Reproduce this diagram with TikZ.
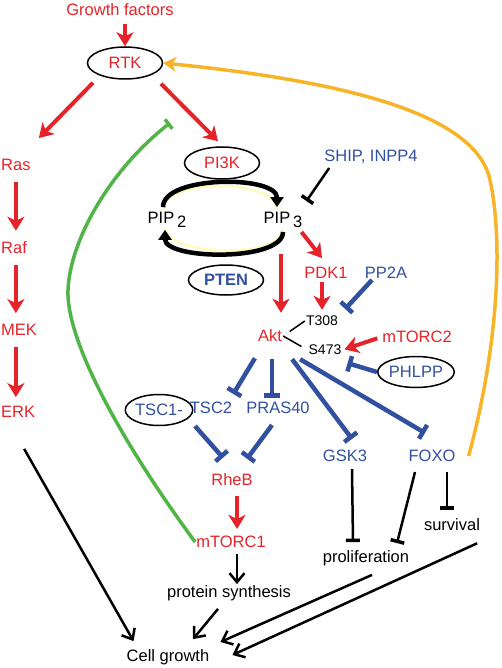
\documentclass[tikz,border=0pt]{standalone}
\usepackage{fontspec}
\setmainfont{Liberation Sans}
\usetikzlibrary{shapes.geometric,arrows.meta}
\definecolor{sigred}{RGB}{230,35,40}
\definecolor{sigblue}{RGB}{50,80,160}
\definecolor{fbgreen}{RGB}{80,180,70}
\definecolor{fborange}{RGB}{248,180,40}

\begin{document}
\begin{tikzpicture}[x=1pt, y=-1pt,
  every node/.style = {inner sep=1pt, font=\fontsize{16.5}{18}\selectfont},
  kinase/.style = {text=sigred},
  substrate/.style = {text=sigblue},
  site/.style = {font=\fontsize{14}{16}\selectfont},
  oval/.style = {ellipse, draw, line width=1.5pt, inner sep=0pt,
    minimum width=75pt, minimum height=32pt},
  act/.style = {draw=sigred, line width=4pt,
    -{Stealth[length=14pt, width=17pt, inset=4pt]}},
  inh/.style = {draw=sigblue, line width=4.5pt, -{Bar[width=16pt]}},
  leads/.style = {draw, line width=2.5pt,
    -{Straight Barb[length=9pt, width=15pt, line width=2.5pt]}},
  blocks/.style = {draw, line width=2.5pt, -{Bar[width=14pt, line width=3.5pt]}},
  turnover/.style = {draw, line width=4.5pt, -{Triangle[length=10pt, width=13pt]}},
  glow/.style = {draw=yellow!25, line width=2.5pt}]
  \useasboundingbox (0,0) rectangle (502,668);

  \node[kinase] (gf) at (120,10) {Growth factors};
  \node[oval, kinase] (rtk) at (125,63) {RTK};
  \node[kinase, anchor=west] (ras) at (0,165) {Ras};
  \node[kinase, anchor=west] (raf) at (0,248) {Raf};
  \node[kinase, anchor=west] (mek) at (0,330) {MEK};
  \node[kinase, anchor=west] (erk) at (0,412) {ERK};
  \node[oval, kinase] (pi3k) at (222,163) {PI3K};
  \node (pip2) at (167,220) {PIP\,\raisebox{-4pt}{2}};
  \node (pip3) at (283,220) {PIP\,\raisebox{-4pt}{3}};
  \node[substrate] (ship) at (371,157) {SHIP, INPP4};
  \node[oval, substrate, font=\fontsize{16.5}{18}\selectfont\bfseries,
    minimum height=30pt] (pten) at (226,280) {PTEN};
  \node[kinase] (pdk1) at (326,273) {PDK1};
  \node[substrate] (pp2a) at (386,273) {PP2A};
  \node[kinase] (akt) at (270,336) {Akt};
  \node[site] (t308) at (322,321) {T308};
  \node[site] (s473) at (325,350) {S473};
  \node[kinase] (mtorc2) at (417,337) {mTORC2};
  \node[oval, substrate, minimum height=31pt] (phlpp) at (416,372) {PHLPP};
  \node[oval, substrate, minimum width=61pt, minimum height=31pt] (tsc1) at (159,410) {TSC1-};
  \node[substrate] (tsc2) at (211,408) {TSC2};
  \node[substrate] (pras40) at (278,408) {PRAS40};
  \node[substrate] (gsk3) at (345,456) {GSK3};
  \node[substrate] (foxo) at (432,456) {FOXO};
  \node[kinase] (rheb) at (232,480) {RheB};
  \node[kinase] (mtorc1) at (231,542) {mTORC1};
  \node (ps) at (229,593) {protein synthesis};
  \node (prolif) at (366,558) {proliferation};
  \node (surv) at (452,525) {survival};
  \node (cg) at (168,657) {Cell growth};
  \coordinate (rtkpi) at (170,123);

  \draw[act, shorten <=7pt] (rtk.north |- gf.south) -- (rtk.north);
  \draw[act] ([xshift=-32pt, yshift=-3pt]rtk.south) -- ([xshift=23pt, yshift=20pt]ras.north);
  \draw[act] ([xshift=36pt, yshift=-4pt]rtk.south) -- ([xshift=-4pt, yshift=5pt]pi3k.north);
  \draw[act, shorten <=10pt, shorten >=10pt] (ras.south) -- (ras.south |- raf.north);
  \draw[act, shorten <=10pt, shorten >=10pt] (ras.south |- raf.south) -- (ras.south |- mek.north);
  \draw[act, shorten <=10pt, shorten >=8pt] (ras.south |- mek.south) -- (ras.south |- erk.north);

  \draw[glow, transform canvas={yshift=-3pt}] ([xshift=-4pt, yshift=4pt]pip2.north)
    .. controls +(0,-32) and +(0,-32) .. ([xshift=-6pt, yshift=4pt]pip3.north);
  \draw[glow, transform canvas={yshift=3pt}] ([yshift=-3pt]pip3.south)
    .. controls +(0,30) and +(0,30) .. ([xshift=-2pt, yshift=-1pt]pip2.south);
  \draw[turnover] ([xshift=-4pt, yshift=4pt]pip2.north)
    .. controls +(0,-32) and +(0,-32) .. ([xshift=-6pt, yshift=4pt]pip3.north);
  \draw[turnover] ([yshift=-3pt]pip3.south)
    .. controls +(0,30) and +(0,30) .. ([xshift=-2pt, yshift=-1pt]pip2.south);
  \draw[blocks] ([xshift=6pt, yshift=-3pt]ship.south west) -- ([xshift=3pt, yshift=10pt]pip3.north east);

  \draw[act] ([xshift=-2pt, yshift=-3pt]pip3.south east) -- ([xshift=-4pt, yshift=8pt]pdk1.north);
  \draw[act, shorten <=25pt, shorten >=16pt] ([xshift=-2pt]pip3.south) -- ([xshift=-2pt]pip3.south |- akt.north);
  \draw[act, shorten <=2pt, shorten >=5pt] ([xshift=-4pt]pdk1.south) -- ([xshift=-4pt]pdk1.south |- t308.north);
  \draw[line width=1.5pt, shorten <=8pt] (akt.east) -- (t308.west);
  \draw[line width=1.5pt, shorten >=7pt] (akt.east) -- (s473.west);
  \draw[inh] ([xshift=-14pt]pp2a.south) -- ([xshift=6pt, yshift=12pt]t308.east);
  \draw[act, shorten <=4pt, shorten >=2pt] (mtorc2.west) -- (s473.east);
  \draw[inh] (phlpp.west) -- ([xshift=5pt, yshift=-7pt]s473.south east);

  \draw[inh] ([xshift=-2pt, yshift=-15pt]akt.south west) -- ([yshift=7pt]tsc2.north east);
  \draw[inh] ([xshift=2pt, yshift=-16pt]akt.south) -- ([xshift=-6pt, yshift=3pt]pras40.north);
  \draw[inh] ([xshift=9pt, yshift=-16pt]akt.south east) -- ([xshift=7pt, yshift=10pt]gsk3.north);
  \draw[inh] ([xshift=17pt, yshift=-16pt]akt.south east) -- ([xshift=-7pt, yshift=16pt]foxo.north);
  \draw[inh] ([xshift=-16pt, yshift=-11pt]tsc2.south) -- ([xshift=-9pt, yshift=15pt]rheb.north);
  \draw[inh] ([xshift=-6pt, yshift=-10pt]pras40.south) -- ([xshift=15pt, yshift=14pt]rheb.north);
  \draw[act, shorten <=9pt, shorten >=6pt] ([xshift=5pt]rheb.south) -- ([xshift=5pt]rheb.south |- mtorc1.north);

  \draw[fbgreen, line width=3.5pt, -{Bar[width=12pt]}] (mtorc1.west)
    .. controls (120,440) and (66,340) .. (68,290)
    .. controls (70,240) and (110,170) .. (rtkpi);
  \draw[fborange, line width=3.5pt, -{Stealth[length=13pt, width=15pt, inset=4pt]}] ([xshift=12pt]foxo.east)
    .. controls (495,360) and (505,250) .. (490,180)
    .. controls (475,110) and (330,80) .. (rtk.east);

  \draw[leads, shorten <=5pt] ([xshift=6pt]mtorc1.south) -- ([xshift=6pt]mtorc1.south |- ps.north);
  \draw[leads] ([xshift=-11pt, yshift=-7pt]ps.south) -- ([xshift=25pt, yshift=9pt]cg.north);
  \draw[leads] ([xshift=6pt, yshift=-30pt]erk.south) -- ([xshift=8pt, yshift=7pt]cg.north west);
  \draw[leads] ([xshift=6pt, yshift=-8pt]prolif.south) -- ([xshift=10pt, yshift=15pt]cg.east);
  \draw[leads] ([xshift=-4pt, yshift=-11pt]surv.south east) -- ([xshift=22pt, yshift=2pt]cg.east);
  \draw[blocks] ([xshift=7pt, yshift=-6pt]gsk3.south) -- ([xshift=-13pt, yshift=7pt]prolif.north);
  \draw[blocks] ([xshift=-17pt, yshift=-9pt]foxo.south) -- ([xshift=31pt, yshift=6pt]prolif.north);
  \draw[blocks] ([xshift=15pt, yshift=-9pt]foxo.south) -- ([xshift=-5pt, yshift=8pt]surv.north);
\end{tikzpicture}
\end{document}
